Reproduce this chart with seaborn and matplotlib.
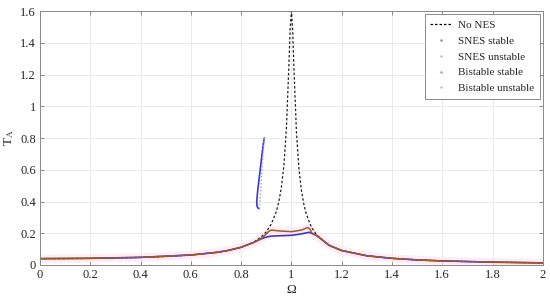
import numpy as np
import pandas as pd
import matplotlib
matplotlib.use("Agg")
import matplotlib.pyplot as plt
from matplotlib.lines import Line2D
import seaborn as sns

# ---- data ----
omega_nones = [0.0, 0.1, 0.2, 0.3, 0.4, 0.5, 0.6, 0.7, 0.75, 0.8, 0.85, 0.88, 0.9, 0.92,
               0.94, 0.95, 0.96, 0.97, 0.98, 0.99, 0.995, 1.0, 1.005, 1.01, 1.02, 1.03,
               1.04, 1.05, 1.06, 1.08, 1.1, 1.15, 1.2, 1.3, 1.4, 1.5, 1.6, 1.8, 2.0]
t_nones = [0.040, 0.0404, 0.0417, 0.0440, 0.0476, 0.0533, 0.0625, 0.0784, 0.0914, 0.111,
           0.144, 0.177, 0.209, 0.258, 0.337, 0.399, 0.488, 0.626, 0.859, 1.259, 1.49,
           1.6, 1.48, 1.24, 0.837, 0.605, 0.467, 0.378, 0.316, 0.237, 0.19, 0.124,
           0.0909, 0.058, 0.0417, 0.032, 0.0256, 0.0179, 0.0133]

omega_snes = [0.0, 0.2, 0.4, 0.6, 0.7, 0.75, 0.8, 0.85, 0.88, 0.9, 0.92, 0.95, 1.0,
              1.04, 1.07, 1.08, 1.1, 1.15, 1.2, 1.3, 1.4, 1.5, 1.6, 1.8, 2.0]
t_snes = [0.040, 0.042, 0.048, 0.063, 0.079, 0.092, 0.112, 0.142, 0.165, 0.176, 0.182,
          0.184, 0.187, 0.196, 0.206, 0.20, 0.186, 0.124, 0.091, 0.058, 0.042, 0.032,
          0.0256, 0.0179, 0.0133]

omega_iso_stable = [0.872, 0.866, 0.863, 0.862, 0.866, 0.872, 0.878, 0.884, 0.889, 0.892]
t_iso_stable = [0.355, 0.36, 0.375, 0.40, 0.47, 0.55, 0.63, 0.71, 0.77, 0.80]
omega_iso_unstable = [0.892, 0.889, 0.886, 0.883, 0.880, 0.877, 0.874, 0.872]
t_iso_unstable = [0.80, 0.74, 0.67, 0.60, 0.52, 0.45, 0.39, 0.355]

omega_bi = [0.0, 0.2, 0.4, 0.6, 0.7, 0.75, 0.8, 0.85, 0.88, 0.9, 0.91, 0.92, 0.95, 1.0,
            1.04, 1.065, 1.075, 1.08, 1.1, 1.15, 1.2, 1.3, 1.4, 1.5, 1.6, 1.8, 2.0]
t_bi = [0.040, 0.042, 0.048, 0.063, 0.079, 0.092, 0.112, 0.142, 0.168, 0.195, 0.212,
        0.220, 0.215, 0.210, 0.220, 0.236, 0.225, 0.202, 0.186, 0.124, 0.091, 0.058,
        0.042, 0.032, 0.0256, 0.0179, 0.0133]

x_ticks = [0, 0.2, 0.4, 0.6, 0.8, 1, 1.2, 1.4, 1.6, 1.8, 2]
x_ticklabels = ["0", "0.2", "0.4", "0.6", "0.8", "1", "1.2", "1.4", "1.6", "1.8", "2"]
y_ticks = [0, 0.2, 0.4, 0.6, 0.8, 1, 1.2, 1.4, 1.6]
y_ticklabels = ["0", "0.2", "0.4", "0.6", "0.8", "1", "1.2", "1.4", "1.6"]

legend_labels = ["No NES", "SNES stable", "SNES unstable", "Bistable stable", "Bistable unstable"]

# ---- styling ----
sns.set_theme(style="whitegrid")
plt.rcParams["font.family"] = ["Liberation Serif", "DejaVu Serif"]
plt.rcParams["mathtext.fontset"] = "stix"

c_blue = "#3b35d6"
c_blue_light = "#9a9aff"
c_brown = "#9a5a2c"
c_pink = "#ffe4f5"

fig = plt.figure(figsize=(5.5, 3.0), dpi=100)
ax = fig.add_axes([0.0727, 0.1167, 0.9143, 0.8463])

# bistable unstable halo (pale pink)
sns.lineplot(x=omega_bi, y=t_bi, ax=ax, color=c_pink, lw=6, alpha=0.7,
             sort=False, estimator=None, solid_capstyle="butt")
# no NES
sns.lineplot(x=omega_nones, y=t_nones, ax=ax, color="#222222", lw=0.9,
             sort=False, estimator=None, linestyle=(0, (2.0, 1.6)))
# SNES stable
sns.lineplot(x=omega_snes, y=t_snes, ax=ax, color=c_blue, lw=1.2,
             sort=False, estimator=None)
sns.lineplot(x=omega_iso_stable, y=t_iso_stable, ax=ax, color=c_blue, lw=1.2,
             sort=False, estimator=None)
# SNES unstable
sns.lineplot(x=omega_iso_unstable, y=t_iso_unstable, ax=ax, color=c_blue_light, lw=1.0,
             sort=False, estimator=None, linestyle=(0, (1, 1.5)))
# bistable stable
sns.lineplot(x=omega_bi, y=t_bi, ax=ax, color=c_brown, lw=1.1,
             sort=False, estimator=None)

ax.set_xlim(0, 2)
ax.set_ylim(0, 1.6)
ax.set_xticks(x_ticks)
ax.set_xticklabels(x_ticklabels)
ax.set_yticks(y_ticks)
ax.set_yticklabels(y_ticklabels)
ax.tick_params(axis="both", labelsize=9, colors="#262626", direction="in",
               length=3, width=0.6, top=True, right=True, bottom=True, left=True,
               pad=3, labelcolor="#262626")
ax.tick_params(axis="both", color="#777777")
ax.grid(True, color="#e6e6e6", lw=0.6)
ax.set_facecolor("white")
for s in ax.spines.values():
    s.set_visible(True)
    s.set_color("#8a8a8a")
    s.set_linewidth(0.7)

ax.set_xlabel("Ω", fontsize=9.5, color="#262626", labelpad=2)
ax.set_ylabel("T$_{\\mathrm{A}}$", fontsize=9.5, color="#262626", labelpad=3)

handles = [
    Line2D([], [], color="black", lw=0.9, linestyle=(0, (2.0, 1.6))),
    Line2D([], [], color="#888888", marker=".", markersize=1.5, linestyle="none"),
    Line2D([], [], color="#bbbbbb", marker=".", markersize=1.5, linestyle="none"),
    Line2D([], [], color="#e08080", marker=".", markersize=1.5, linestyle="none"),
    Line2D([], [], color="#f0a0c8", marker=".", markersize=1.5, linestyle="none"),
]
leg = ax.legend(handles, legend_labels, loc="upper right", fontsize=8,
                frameon=True, fancybox=False, edgecolor="#8a8a8a", framealpha=1,
                borderaxespad=0.3, handlelength=2.0, labelspacing=0.55,
                borderpad=0.5, handletextpad=0.5)
leg.get_frame().set_linewidth(0.7)

fig.savefig("out.png", dpi=100, facecolor="white")
